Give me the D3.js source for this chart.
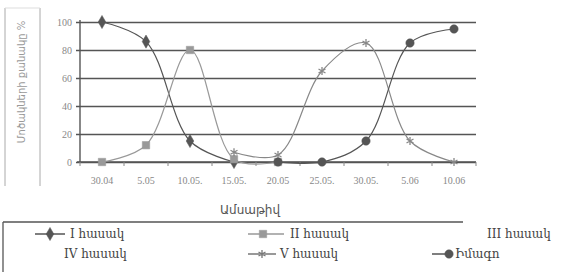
<!DOCTYPE html>
<html>
<head>
<meta charset="utf-8">
<script src="https://cdn.jsdelivr.net/npm/d3@7"></script>
<style>
  body { margin: 0; background: #fff; }
  svg { display: block; }
</style>
</head>
<body>
<svg id="chart" width="561" height="272"></svg>
<script>
// data
var dates = ["30.04", "5.05", "10.05.", "15.05.", "20.05", "25.05.", "30.05.", "5.06", "10.06"];
var yTicks = [0, 20, 40, 60, 80, 100];
var stage1 = [100, 86, 15, 0, null, null, null, null, null];
var stage2 = [0, 12, 80, 2, 0, null, null, null, null];
var stage5 = [null, null, null, 7, 5, 65, 85, 15, 0];
var imago = [null, null, null, null, 0, 0, 15, 85, 95];

var svg = d3.select("#chart");

var x = d3.scalePoint().domain(dates).range([80, 476]).padding(0.5);
var y = d3.scaleLinear().domain([0, 100]).range([162, 22]);

// y label box
svg.append("line").attr("x1", 5).attr("x2", 5).attr("y1", 8).attr("y2", 186).attr("stroke", "#aaa");
svg.append("line").attr("x1", 40).attr("x2", 40).attr("y1", 8).attr("y2", 186).attr("stroke", "#aaa");
svg.append("line").attr("x1", 5).attr("x2", 40).attr("y1", 8).attr("y2", 8).attr("stroke", "#ddd");
svg.append("text")
  .attr("transform", "translate(25,82) rotate(-90)")
  .attr("text-anchor", "middle")
  .style("font-family", "DejaVu Sans")
  .style("font-size", "10px")
  .style("fill", "#999")
  .text("Մոծակների քանակը %");

// gridlines + y ticks
var yAxis = d3.axisLeft(y).tickValues(yTicks).tickSize(-396).tickPadding(8);
var gy = svg.append("g").attr("transform", "translate(80,0)").call(yAxis);
gy.select(".domain").remove();
gy.selectAll(".tick line").attr("x1", -4).attr("stroke", "#555").attr("stroke-width", 1.4);
gy.selectAll(".tick text")
  .style("font-family", "Liberation Serif")
  .style("font-size", "10px")
  .style("fill", "#888");
svg.append("line").attr("x1", 80).attr("x2", 80).attr("y1", 20).attr("y2", 162)
  .attr("stroke", "#555").attr("stroke-width", 1.4);

// x axis
var bounds = d3.range(dates.length + 1).map(function(i) { return 80 + i * x.step(); });
var gx = svg.append("g").attr("transform", "translate(0,162)");
gx.append("line").attr("x1", 77).attr("x2", 476).attr("stroke", "#555").attr("stroke-width", 1.4);
gx.selectAll(".tk").data(bounds).enter().append("line")
  .attr("x1", function(d) { return d; }).attr("x2", function(d) { return d; })
  .attr("y1", 0).attr("y2", 4).attr("stroke", "#888");
gx.selectAll(".lbl").data(dates).enter().append("text")
  .attr("x", function(d) { return x(d); })
  .attr("y", 22)
  .attr("text-anchor", "middle")
  .style("font-family", "Liberation Serif")
  .style("font-size", "10px")
  .style("fill", "#888")
  .text(function(d) { return d; });

svg.append("text")
  .attr("x", 250).attr("y", 214)
  .attr("text-anchor", "middle")
  .style("font-family", "DejaVu Sans")
  .style("font-size", "12px")
  .style("fill", "#555")
  .text("Ամսաթիվ");

// series
var series = [
  { name: "I հասակ", vals: stage1, color: "#555", mark: "diamond" },
  { name: "II հասակ", vals: stage2, color: "#999", mark: "square" },
  { name: "V հասակ", vals: stage5, color: "#888", mark: "star" },
  { name: "Իմագո", vals: imago, color: "#555", mark: "circle" }
];

var line = d3.line()
  .defined(function(d) { return d.v != null; })
  .x(function(d) { return x(d.k); })
  .y(function(d) { return y(d.v); })
  .curve(d3.curveCatmullRom.alpha(0.5));

function symbolFor(m) {
  if (m == "diamond") return d3.symbol().type(d3.symbolDiamond).size(50);
  if (m == "square") return d3.symbol().type(d3.symbolSquare).size(55);
  if (m == "star") return d3.symbol().type(d3.symbolAsterisk).size(45);
  return d3.symbol().type(d3.symbolCircle).size(55);
}

series.forEach(function(s) {
  var pts = dates.map(function(k, i) { return { k: k, v: s.vals[i] }; });
  svg.append("path").datum(pts)
    .attr("d", line)
    .attr("fill", "none")
    .attr("stroke", s.color)
    .attr("stroke-width", 1.2);
  svg.selectAll(null).data(pts.filter(function(d) { return d.v != null; })).enter()
    .append("path")
    .attr("transform", function(d) { return "translate(" + x(d.k) + "," + y(d.v) + ")"; })
    .attr("d", symbolFor(s.mark)())
    .attr("fill", s.color)
    .attr("stroke", s.color)
    .attr("stroke-width", s.mark == "star" ? 1.3 : 0.5);
});

// legend
svg.append("line").attr("x1", 3).attr("x2", 463).attr("y1", 222).attr("y2", 222).attr("stroke", "#555").attr("stroke-width", 1.3);
svg.append("line").attr("x1", 3).attr("x2", 3).attr("y1", 222).attr("y2", 272).attr("stroke", "#555").attr("stroke-width", 1.3);

var legendItems = [
  { name: "I հասակ", color: "#555", mark: "diamond", lx1: 35, lx2: 65, sx: 50, tx: 70, ty: 238 },
  { name: "II հասակ", color: "#999", mark: "square", lx1: 248, lx2: 284, sx: 263, tx: 290, ty: 238 },
  { name: "III հասակ", color: null, mark: null, tx: 487, ty: 238 },
  { name: "IV հասակ", color: null, mark: null, tx: 64, ty: 258 },
  { name: "V հասակ", color: "#777", mark: "star", lx1: 248, lx2: 276, sx: 262, tx: 280, ty: 258 },
  { name: "Իմագո", color: "#555", mark: "circle", lx1: 432, lx2: 449, sx: 449, tx: 455, ty: 258 }
];

var lg = svg.append("g");
legendItems.forEach(function(it) {
  if (it.mark) {
    lg.append("line").attr("x1", it.lx1).attr("x2", it.lx2).attr("y1", it.ty - 4).attr("y2", it.ty - 4)
      .attr("stroke", it.color).attr("stroke-width", 1.5);
    lg.append("path")
      .attr("transform", "translate(" + it.sx + "," + (it.ty - 4) + ")")
      .attr("d", symbolFor(it.mark)())
      .attr("fill", it.color).attr("stroke", it.color)
      .attr("stroke-width", it.mark == "star" ? 1.3 : 0.5);
  }
  lg.append("text")
    .attr("x", it.tx).attr("y", it.ty)
    .style("font-family", "DejaVu Serif")
    .style("font-size", "12px")
    .style("fill", "#444")
    .text(it.name);
});
</script>
</body>
</html>
